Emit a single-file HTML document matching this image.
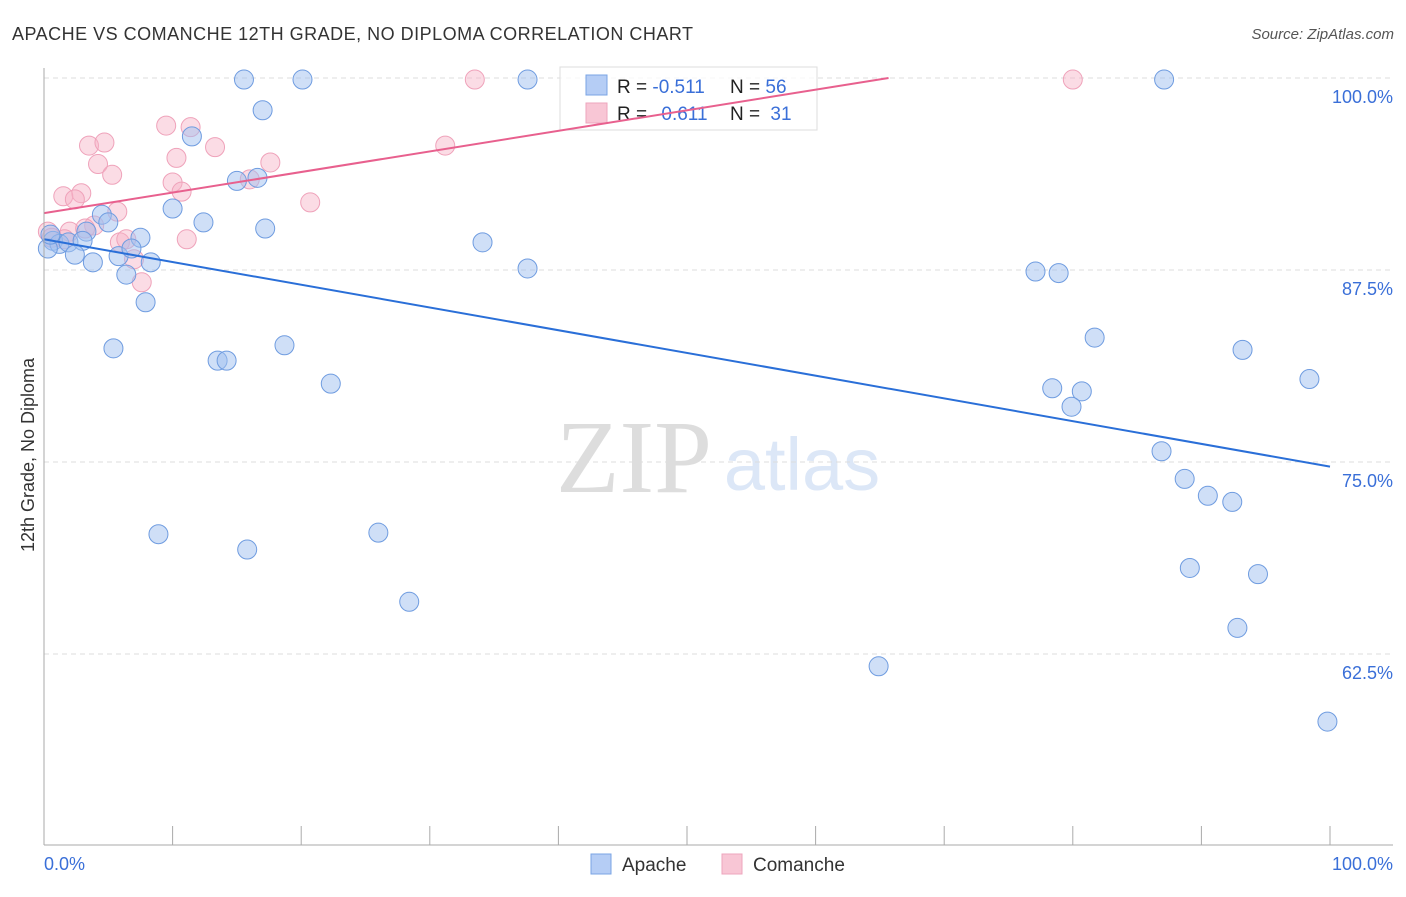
<!DOCTYPE html>
<html><head><meta charset="utf-8"><style>
body{margin:0;background:#fff;font-family:"Liberation Sans",sans-serif;}
svg text{font-family:"Liberation Sans",sans-serif;}
</style></head><body>
<svg id="chart" width="1406" height="892">
<text x="12" y="40" font-size="18" fill="#333" textLength="681" lengthAdjust="spacing">APACHE VS COMANCHE 12TH GRADE, NO DIPLOMA CORRELATION CHART</text>
<text x="1394" y="39" font-size="15" fill="#555" font-style="italic" text-anchor="end">Source: ZipAtlas.com</text>
<text x="634" y="492" font-size="104" fill="#ddd" text-anchor="middle" style="font-family:'Liberation Serif',serif">ZIP</text>
<text x="802" y="490" font-size="74" fill="#dce7f7" text-anchor="middle">atlas</text>
<text transform="translate(34,455) rotate(-90)" font-size="18" fill="#333" text-anchor="middle">12th Grade, No Diploma</text>
<g id="grid"></g><g id="marks"></g>
<g>
<rect x="560" y="67" width="257" height="63" fill="rgba(255,255,255,0.75)" stroke="#ddd"/>
<rect x="586" y="75" width="21" height="20" fill="#b5cdf5" stroke="#7aa4e4"/>
<rect x="586" y="103" width="21" height="20" fill="#f8c6d5" stroke="#eea5bd"/>
<text x="617" y="93" font-size="19" fill="#222">R = <tspan fill="#3a6fd8">-0.511</tspan></text>
<text x="730" y="93" font-size="19" fill="#222">N = <tspan fill="#3a6fd8">56</tspan></text>
<text x="617" y="120" font-size="19" fill="#222">R = <tspan fill="#3a6fd8" dx="9">0.611</tspan></text>
<text x="730" y="120" font-size="19" fill="#222">N = <tspan fill="#3a6fd8" dx="5">31</tspan></text>
</g>
<g id="lines"></g><g id="axes"></g>
<g>
<rect x="591" y="854" width="20" height="20" fill="#b5cdf5" stroke="#7aa4e4"/>
<text x="622" y="871" font-size="19" fill="#333">Apache</text>
<rect x="722" y="854" width="20" height="20" fill="#f8c6d5" stroke="#eea5bd"/>
<text x="753" y="871" font-size="19" fill="#333">Comanche</text>
</g>
</svg>
<script>
const yTicks=[100,87.5,75,62.5];
const yTickLabels=["100.0%","87.5%","75.0%","62.5%"];
const xTickLabels=["0.0%","100.0%"];
const apacheX=[15.55,20.1,37.6,87.1,17.0,11.5,15.0,16.6,10.0,4.5,5.0,12.4,17.2,3.3,7.5,0.7,1.2,1.9,3.0,0.3,2.4,3.8,5.8,6.8,8.3,6.4,7.9,34.1,37.6,77.1,78.9,5.4,13.5,14.2,18.7,22.3,81.7,93.2,98.4,78.4,80.7,79.9,86.9,88.7,90.5,92.4,8.9,15.8,26.0,28.4,89.1,94.4,92.8,64.9,99.8,0.5];
const apacheY=[99.9,99.9,99.9,99.9,97.9,96.2,93.3,93.5,91.5,91.1,90.6,90.6,90.2,90.0,89.6,89.4,89.2,89.3,89.4,88.9,88.5,88.0,88.4,88.9,88.0,87.2,85.4,89.3,87.6,87.4,87.3,82.4,81.6,81.6,82.6,80.1,83.1,82.3,80.4,79.8,79.6,78.6,75.7,73.9,72.8,72.4,70.3,69.3,70.4,65.9,68.1,67.7,64.2,61.7,58.1,89.8];
const comancheX=[33.5,80.0,9.5,11.4,3.5,4.7,13.3,10.3,4.2,17.6,5.3,10.0,16.0,2.9,1.5,10.7,2.4,20.7,31.2,5.7,3.9,11.1,5.9,6.4,7.0,7.6,0.3,0.6,2.0,3.2,1.6];
const comancheY=[99.9,99.9,96.9,96.8,95.6,95.8,95.5,94.8,94.4,94.5,93.7,93.2,93.4,92.5,92.3,92.6,92.1,91.9,95.6,91.3,90.4,89.5,89.3,89.5,88.2,86.7,90.0,89.6,90.0,90.2,89.5];
const apacheTrend=[89.5,74.7];
const comancheTrend=[91.2,104.6];
const NS="http://www.w3.org/2000/svg";
const X=v=>44+v*12.86, Y=v=>78+(100-v)*15.36;
function mk(t,a,p){const e=document.createElementNS(NS,t);for(const k in a)e.setAttribute(k,a[k]);p.appendChild(e);return e;}
const grid=document.getElementById('grid'),marks=document.getElementById('marks'),axes=document.getElementById('axes'),lines=document.getElementById('lines');
yTicks.forEach((t,i)=>{
 const l=mk('line',{x1:44,x2:1393,y1:Y(t),y2:Y(t),stroke:'#ddd','stroke-dasharray':'5,4'},grid);
 
 
 const tx=mk('text',{x:1393,y:Y(t)+25,'font-size':18,fill:'#3a6fd8','text-anchor':'end'},axes);tx.textContent=yTickLabels[i];
 
 
});
mk('line',{x1:44,x2:44,y1:68,y2:845,stroke:'#aaa'},axes);
mk('line',{x1:44,x2:1393,y1:845,y2:845,stroke:'#aaa'},axes);
for(let i=0;i<=10;i++){const t=mk('line',{x1:X(i*10),x2:X(i*10),y1:826,y2:845,stroke:'#aaa'},axes);
 
 }
const xl0=mk('text',{x:44,y:870,'font-size':18,fill:'#3a6fd8'},axes);xl0.textContent=xTickLabels[0];


const xl1=mk('text',{x:1393,y:870,'font-size':18,fill:'#3a6fd8','text-anchor':'end'},axes);xl1.textContent=xTickLabels[1];


comancheX.forEach((x,i)=>{const c=mk('circle',{cx:X(x),cy:Y(comancheY[i]),r:9.5,fill:'rgba(246,178,198,0.45)',stroke:'#efa2ba','stroke-width':1},marks);
 
 });
apacheX.forEach((x,i)=>{const c=mk('circle',{cx:X(x),cy:Y(apacheY[i]),r:9.5,fill:'rgba(160,192,240,0.5)',stroke:'#6f9ce0','stroke-width':1},marks);
 
 });
const bl=mk('line',{x1:X(0),y1:Y(apacheTrend[0]),x2:X(100),y2:Y(apacheTrend[1]),stroke:'#2a6fd8','stroke-width':2},lines);


const slope=(comancheTrend[1]-comancheTrend[0])/100;
const xe=Math.min(100,(100-comancheTrend[0])/slope);
const pl=mk('line',{x1:X(0),y1:Y(comancheTrend[0]),x2:X(xe),y2:Y(comancheTrend[0]+slope*xe),stroke:'#e8608e','stroke-width':2},lines);


</script>
</body></html>
